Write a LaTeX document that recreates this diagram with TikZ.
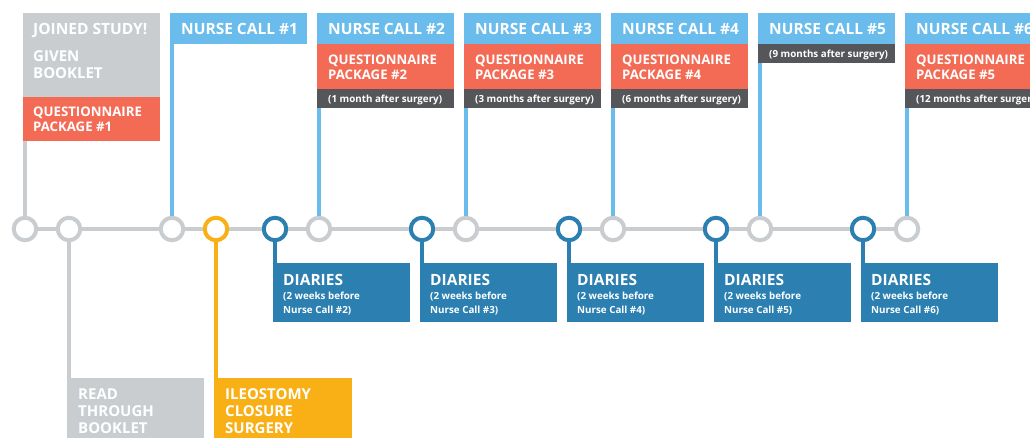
\documentclass[tikz,border=0pt]{standalone}
\usepackage{fontspec}
\setmainfont{Open Sans}
\definecolor{lgray}{HTML}{C9CDD0}
\definecolor{lblue}{HTML}{69BCEB}
\definecolor{qred}{HTML}{F36B55}
\definecolor{dgray}{HTML}{54565A}
\definecolor{dblue}{HTML}{2B80B1}
\definecolor{sorange}{HTML}{F9B017}
\begin{document}
\begin{tikzpicture}[x=1pt,y=-1pt,
  dot/.style={circle, line width=4pt, fill=white, minimum size=22.5pt, inner sep=0pt},
  tl/.style={line width=4pt, lgray},
  vl/.style={line width=4pt},
  box/.style={rectangle, anchor=north west, inner sep=0pt, outer sep=0pt, minimum width=137pt},
  lbl/.style={anchor=base west, inner sep=0pt, text=white},
  big/.style={lbl, font=\fontsize{15.5}{16}\selectfont\bfseries},
  mid/.style={lbl, font=\fontsize{13.2}{14}\selectfont\bfseries},
  small/.style={lbl, font=\fontsize{9.8}{11}\selectfont\bfseries},
  lrg/.style={lbl, font=\fontsize{15}{16}\selectfont\bfseries},
]
\useasboundingbox (0,0) rectangle (1030,438);
\clip (0,0) rectangle (1030,438);

% timeline circles
\foreach \n/\x/\c in {g1/25/lgray, g2/69/lgray, n1/172/lgray, s/216/sorange, d2/275/dblue, n2/319/lgray, d3/422/dblue, n3/466/lgray, d4/569/dblue, n4/613/lgray, d5/716/dblue, n5/760/lgray, d6/863/dblue, n6/907/lgray}
  \node[dot, draw=\c] (\n) at (\x,229) {};

% timeline segments
\foreach \a/\b in {g1/g2, g2/n1, n1/s, s/d2, d2/n2, n2/d3, d3/n3, n3/d4, d4/n4, n4/d5, d5/n5, n5/d6, d6/n6}
  \draw[tl] (\a) -- (\b);

% joined study
\node[box, fill=lgray, minimum height=84pt] (js) at (23,13) {};
\node[box, fill=qred, minimum height=44pt] (jq) at (23,97) {};
\node[big] (jst) at (33,35) {JOINED STUDY!};
\node[lrg] (jg1) at (33,62) {GIVEN};
\node[lrg] (jg2) at (33,79) {BOOKLET};
\node[mid] (jq1) at (33,117) {QUESTIONNAIRE};
\node[mid] (jq2) at (33,132) {PACKAGE \#1};
\draw[vl, lgray] (g1) -- (g1 |- jq.south);

% nurse call 1
\node[box, fill=lblue, minimum height=31pt] (nc1) at (170,13) {};
\node[big] (nct1) at (181,35) {NURSE CALL \#1};
\draw[vl, lblue] (n1) -- (n1 |- nc1.south);

% nurse calls with questionnaire
\foreach \i/\x/\q/\m in {2/319/2/1 month after surgery, 3/466/3/3 months after surgery, 4/613/4/6 months after surgery, 6/907/5/12 months after surgery}{
  \node[box, fill=lblue, minimum height=31pt] (nc\i) at (\x-2,13) {};
  \node[box, fill=qred, minimum height=45pt] (q\i) at (\x-2,44) {};
  \node[box, fill=dgray, minimum height=19pt] (m\i) at (\x-2,89) {};
  \node[big] (nct\i) at (\x+9,35) {NURSE CALL \#\i};
  \node[mid] (qa\i) at (\x+9,65) {QUESTIONNAIRE};
  \node[mid] (qb\i) at (\x+9,80) {PACKAGE \#\q};
  \node[small] (mt\i) at (\x+9,102.5) {(\m)};
  \draw[vl, lblue] (n\i) -- (n\i |- m\i.south);
}

% nurse call 5
\node[box, fill=lblue, minimum height=31pt] (nc5) at (758,13) {};
\node[box, fill=dgray, minimum height=19pt] (m5) at (758,44) {};
\node[big] (nct5) at (769,35) {NURSE CALL \#5};
\node[small] (mt5) at (769,57.5) {(9 months after surgery)};
\draw[vl, lblue] (n5) -- (n5 |- m5.south);

% diaries
\foreach \i/\x in {2/275, 3/422, 4/569, 5/716, 6/863}{
  \node[box, fill=dblue, minimum height=59pt] (db\i) at (\x-2,263) {};
  \node[big] (dt\i) at (\x+8,285) {DIARIES};
  \node[small] (da\i) at (\x+8,299) {(2 weeks before};
  \node[small] (dc\i) at (\x+8,313) {Nurse Call \#\i)};
  \draw[vl, dblue] (d\i) -- (d\i |- db\i.north);
}

% read through booklet
\node[box, fill=lgray, minimum height=70pt] (rb) at (67,378) {};
\node[lrg] (rb1) at (78,399) {READ};
\node[lrg] (rb2) at (78,416) {THROUGH};
\node[lrg] (rb3) at (78,433) {BOOKLET};
\draw[vl, lgray] (g2) -- (g2 |- rb.north);

% ileostomy closure surgery
\node[box, fill=sorange, minimum height=70pt, minimum width=138pt] (ic) at (214,378) {};
\node[lrg] (ic1) at (225,399) {ILEOSTOMY};
\node[lrg] (ic2) at (225,416) {CLOSURE};
\node[lrg] (ic3) at (225,433) {SURGERY};
\draw[vl, sorange] (s) -- (s |- ic.north);
\end{tikzpicture}
\end{document}
